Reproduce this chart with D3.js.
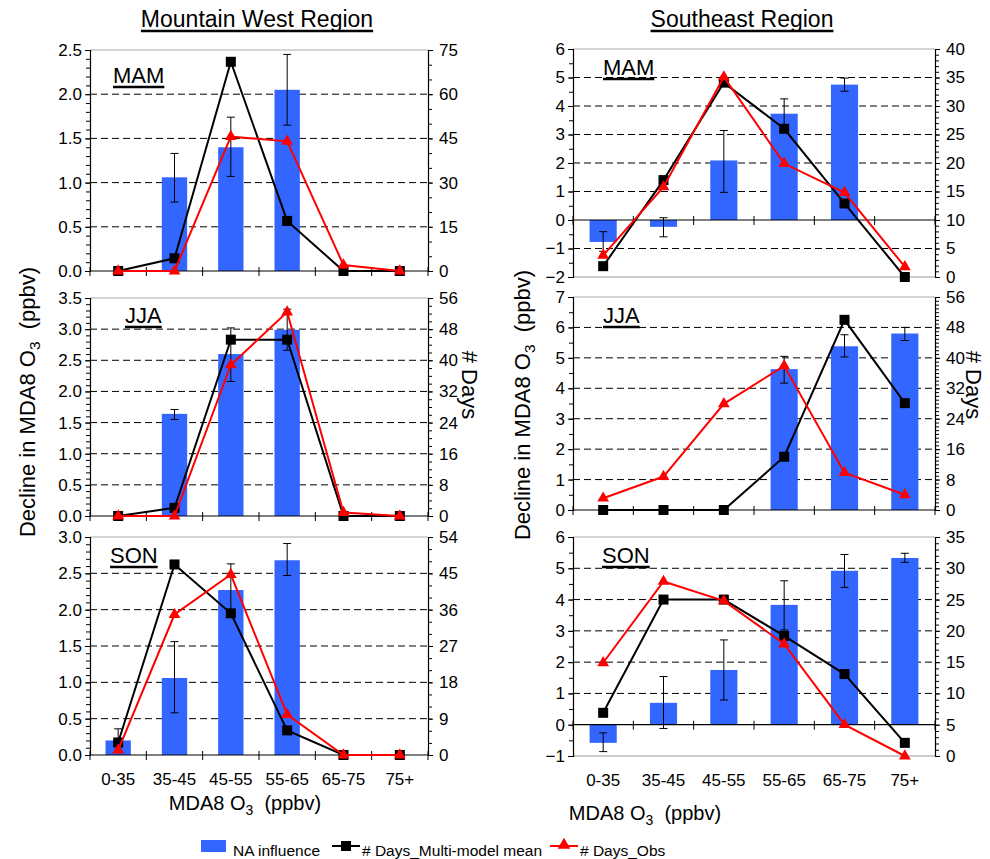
<!DOCTYPE html>
<html>
<head>
<meta charset="utf-8">
<script src="https://cdn.jsdelivr.net/npm/d3@7"></script>
<style>
  body { margin: 0; background: #fff; }
  svg { font-family: "Liberation Sans", Arial, sans-serif; }
</style>
</head>
<body>
<svg id="chart" width="990" height="859"></svg>
<script>
const categories = ["0-35", "35-45", "45-55", "55-65", "65-75", "75+"];

// Mountain West
const mwMamBar   = [0, 1.06, 1.40, 2.05, 0, 0];
const mwMamHi    = [null, 1.33, 1.74, 2.45, null, null];
const mwMamLo    = [null, 0.78, 1.07, 1.65, null, null];
const mwMamModel = [0, 4.3, 71, 17, 0, 0];
const mwMamObs   = [0, 0, 45.6, 44, 2, 0];

const mwJjaBar   = [0, 1.64, 2.60, 2.99, 0, 0];
const mwJjaHi    = [null, 1.71, 3.02, 3.32, null, null];
const mwJjaLo    = [null, 1.55, 2.16, 2.66, null, null];
const mwJjaModel = [0, 2.1, 45.3, 45.3, 0, 0];
const mwJjaObs   = [0, 0, 38.8, 52.4, 0.9, 0];

const mwSonBar   = [0.20, 1.06, 2.27, 2.68, 0, 0];
const mwSonHi    = [0.36, 1.56, 2.63, 2.91, null, null];
const mwSonLo    = [0.05, 0.58, 1.95, 2.47, null, null];
const mwSonModel = [3.1, 47.2, 35.1, 6.1, 0, 0];
const mwSonObs   = [1.2, 34.8, 44.7, 10, 0, 0];

// Southeast
const seMamBar   = [-0.77, -0.24, 2.09, 3.73, 4.75, 0];
const seMamHi    = [-0.41, 0.08, 3.14, 4.25, 4.98, null];
const seMamLo    = [-1.10, -0.59, 0.97, 3.20, 4.52, null];
const seMamModel = [1.9, 17, 34.1, 26, 12.9, 0];
const seMamObs   = [3.8, 15.8, 35.1, 19.9, 14.8, 1.8];

const seJjaBar   = [0, 0, 0, 4.63, 5.38, 5.80];
const seJjaHi    = [null, null, null, 5.05, 5.76, 6.00];
const seJjaLo    = [null, null, null, 4.17, 5.03, 5.57];
const seJjaModel = [0, 0, 0, 14, 50, 28.1];
const seJjaObs   = [3.1, 8.8, 27.9, 37.9, 9.8, 4.0];

const seSonBar   = [-0.58, 0.70, 1.75, 3.83, 4.92, 5.33];
const seSonHi    = [-0.26, 1.54, 2.71, 4.60, 5.44, 5.48];
const seSonLo    = [-0.86, -0.12, 0.79, 3.03, 4.39, 5.19];
const seSonModel = [6.9, 25, 25, 19.2, 13.1, 2.1];
const seSonObs   = [14.9, 27.9, 24.8, 17.9, 5, 0];

const barColor = "#3366ff";
const tickFont = 17;

const svg = d3.select("#chart");

const panels = [
  { x0: 90, x1: 428, y0: 50, y1: 271, season: "MAM", lx: 113, ly: 83,
    left: [0, 2.5], lStep: 0.5, lMinor: 0.1, right: [0, 75], rStep: 15, rMinor: 5, fmt: ".1f",
    bar: mwMamBar, hi: mwMamHi, lo: mwMamLo, model: mwMamModel, obs: mwMamObs, catLabels: false },
  { x0: 90, x1: 428, y0: 298, y1: 516, season: "JJA", lx: 125, ly: 323,
    left: [0, 3.5], lStep: 0.5, lMinor: 0.1, right: [0, 56], rStep: 8, rMinor: 2, fmt: ".1f",
    bar: mwJjaBar, hi: mwJjaHi, lo: mwJjaLo, model: mwJjaModel, obs: mwJjaObs, catLabels: false },
  { x0: 90, x1: 428, y0: 537, y1: 755, season: "SON", lx: 110, ly: 563,
    left: [0, 3], lStep: 0.5, lMinor: 0.1, right: [0, 54], rStep: 9, rMinor: 3, fmt: ".1f",
    bar: mwSonBar, hi: mwSonHi, lo: mwSonLo, model: mwSonModel, obs: mwSonObs, catLabels: true },
  { x0: 573, x1: 935, y0: 49, y1: 277, season: "MAM", lx: 603, ly: 75,
    left: [-2, 6], lStep: 1, lMinor: 0.5, right: [0, 40], rStep: 5, rMinor: 1, fmt: "d",
    bar: seMamBar, hi: seMamHi, lo: seMamLo, model: seMamModel, obs: seMamObs, catLabels: false },
  { x0: 573, x1: 935, y0: 297, y1: 510, season: "JJA", lx: 603, ly: 323,
    left: [0, 7], lStep: 1, lMinor: 0.5, right: [0, 56], rStep: 8, rMinor: 1, fmt: "d",
    bar: seJjaBar, hi: seJjaHi, lo: seJjaLo, model: seJjaModel, obs: seJjaObs, catLabels: false },
  { x0: 573, x1: 935, y0: 537, y1: 756, season: "SON", lx: 602, ly: 563,
    left: [-1, 6], lStep: 1, lMinor: 0.5, right: [0, 35], rStep: 5, rMinor: 1, fmt: "d",
    bar: seSonBar, hi: seSonHi, lo: seSonLo, model: seSonModel, obs: seSonObs, catLabels: true }
];

function steps(dom, step) {
  const n = Math.round((dom[1] - dom[0]) / step);
  return d3.range(n + 1).map(i => +(dom[0] + i * step).toFixed(4));
}

function underlined(g, x, y, txt, size, anchor) {
  const t = g.append("text")
    .attr("x", x).attr("y", y)
    .attr("font-size", size)
    .attr("text-anchor", anchor || "start")
    .attr("fill", "#000")
    .text(txt);
  const w = t.node().getComputedTextLength();
  const sx = anchor === "middle" ? x - w / 2 : x;
  g.append("line")
    .attr("x1", sx).attr("x2", sx + w)
    .attr("y1", y + 4).attr("y2", y + 4)
    .attr("stroke", "#000").attr("stroke-width", 2.5);
}

panels.forEach(p => {
  const g = svg.append("g");

  const x = d3.scaleBand().domain(categories).range([p.x0, p.x1]).padding(0);
  const cx = c => x(c) + x.bandwidth() / 2;
  const barW = x.bandwidth() * 0.45;
  const yL = d3.scaleLinear().domain(p.left).range([p.y1, p.y0]);
  const yR = d3.scaleLinear().domain(p.right).range([p.y1, p.y0]);

  // grid
  const majors = steps(p.left, p.lStep);
  g.selectAll(".grid")
    .data(majors.filter(v => v !== 0 && v !== p.left[0] && v !== p.left[1]))
    .join("line")
    .attr("x1", p.x0).attr("x2", p.x1)
    .attr("y1", d => yL(d)).attr("y2", d => yL(d))
    .attr("stroke", "#000").attr("stroke-width", 1)
    .attr("stroke-dasharray", "7,4");

  // top border / bottom border (light)
  g.append("line")
    .attr("x1", p.x0).attr("x2", p.x1)
    .attr("y1", p.y0).attr("y2", p.y0)
    .attr("stroke", "#aaa").attr("stroke-width", 1);
  if (p.left[0] < 0) {
    g.append("line")
      .attr("x1", p.x0).attr("x2", p.x1)
      .attr("y1", p.y1).attr("y2", p.y1)
      .attr("stroke", "#999").attr("stroke-width", 1);
  }

  // bars
  const rows = categories.map((c, i) => ({ c, v: p.bar[i], hi: p.hi[i], lo: p.lo[i], m: p.model[i], o: p.obs[i] }));
  g.selectAll(".bar")
    .data(rows.filter(d => d.v !== 0))
    .join("rect")
    .attr("x", d => cx(d.c) - barW / 2)
    .attr("width", barW)
    .attr("y", d => yL(Math.max(0, d.v)))
    .attr("height", d => Math.abs(yL(d.v) - yL(0)))
    .attr("fill", barColor);

  // category axis on zero line
  const y0 = yL(0);
  g.append("line")
    .attr("x1", p.x0).attr("x2", p.x1)
    .attr("y1", y0).attr("y2", y0)
    .attr("stroke", "#000").attr("stroke-width", 1.2);
  const bounds = categories.map(c => x(c)).concat([p.x1]);
  g.selectAll(".ctick")
    .data(bounds)
    .join("line")
    .attr("x1", d => d).attr("x2", d => d)
    .attr("y1", y0 - 4).attr("y2", y0 + 5)
    .attr("stroke", "#000").attr("stroke-width", 1);

  if (p.catLabels) {
    g.selectAll(".clab")
      .data(categories)
      .join("text")
      .attr("x", d => cx(d))
      .attr("y", p.y1 + 30)
      .attr("text-anchor", "middle")
      .attr("font-size", tickFont)
      .text(d => d);
  }

  // error bars
  const eb = g.selectAll(".err")
    .data(rows.filter(d => d.hi != null))
    .join("g");
  eb.append("line")
    .attr("x1", d => cx(d.c)).attr("x2", d => cx(d.c))
    .attr("y1", d => yL(d.lo)).attr("y2", d => yL(d.hi))
    .attr("stroke", "#000").attr("stroke-width", 1);
  ["hi", "lo"].forEach(k => {
    eb.append("line")
      .attr("x1", d => cx(d.c) - 4).attr("x2", d => cx(d.c) + 4)
      .attr("y1", d => yL(d[k])).attr("y2", d => yL(d[k]))
      .attr("stroke", "#000").attr("stroke-width", 1);
  });

  // left axis
  const axL = g.append("g")
    .attr("transform", `translate(${p.x0},0)`)
    .call(d3.axisLeft(yL).tickValues(majors).tickFormat(d3.format(p.fmt)).tickSize(5).tickPadding(3));
  g.append("g")
    .attr("transform", `translate(${p.x0},0)`)
    .call(d3.axisLeft(yL).tickValues(steps(p.left, p.lMinor)).tickFormat("").tickSize(4))
    .call(a => a.select(".domain").remove());

  // right axis
  const rMajors = steps(p.right, p.rStep);
  const axR = g.append("g")
    .attr("transform", `translate(${p.x1},0)`)
    .call(d3.axisRight(yR).tickValues(rMajors).tickFormat(d3.format("d")).tickSize(5).tickPadding(6));
  g.append("g")
    .attr("transform", `translate(${p.x1},0)`)
    .call(d3.axisRight(yR).tickValues(steps(p.right, p.rMinor)).tickFormat("").tickSize(4))
    .call(a => a.select(".domain").remove());

  [axL, axR].forEach(a => {
    a.select(".domain").attr("stroke", "#000").attr("stroke-width", 1.2);
    a.selectAll("text").attr("font-size", tickFont).attr("fill", "#000")
      .attr("font-family", "'Liberation Sans', Arial, sans-serif");
  });
  g.selectAll(".tick line").attr("stroke", "#000");

  // lines
  const line = d3.line().x(d => cx(d.c)).y(d => d.y);
  g.append("path")
    .datum(rows.map(d => ({ c: d.c, y: yR(d.m) })))
    .attr("d", line)
    .attr("fill", "none").attr("stroke", "#000").attr("stroke-width", 2);
  g.selectAll(".sq")
    .data(rows)
    .join("rect")
    .attr("x", d => cx(d.c) - 5).attr("y", d => yR(d.m) - 5)
    .attr("width", 10).attr("height", 10)
    .attr("fill", "#000");

  g.append("path")
    .datum(rows.map(d => ({ c: d.c, y: yR(d.o) })))
    .attr("d", line)
    .attr("fill", "none").attr("stroke", "#ff0000").attr("stroke-width", 2);
  g.selectAll(".tri")
    .data(rows)
    .join("path")
    .attr("d", d3.symbol(d3.symbolTriangle).size(60))
    .attr("transform", d => `translate(${cx(d.c)},${yR(d.o)})`)
    .attr("fill", "#ff0000");

  underlined(g, p.lx, p.ly, p.season, 22);
});

// titles
underlined(svg, 257, 27, "Mountain West Region", 23, "middle");
underlined(svg, 742, 27, "Southeast Region", 23, "middle");

// axis titles
function o3Label(sel, prefix, suffix) {
  sel.append("tspan").text(prefix);
  sel.append("tspan").attr("font-size", "0.7em").attr("dy", 5).text("3");
  sel.append("tspan").attr("dy", -5).text(suffix);
}
[[35, 402], [530, 405]].forEach(([x, y]) => {
  const t = svg.append("text")
    .attr("transform", `translate(${x},${y}) rotate(-90)`)
    .attr("text-anchor", "middle")
    .attr("font-size", 22)
    .attr("xml:space", "preserve");
  o3Label(t, "Decline in MDA8 O", "  (ppbv)");
});
[[462, 385], [966, 385]].forEach(([x, y]) => {
  svg.append("text")
    .attr("transform", `translate(${x},${y}) rotate(90)`)
    .attr("text-anchor", "middle")
    .attr("font-size", 22)
    .text("# Days");
});
[[245, 810], [645, 820]].forEach(([x, y]) => {
  const t = svg.append("text")
    .attr("x", x).attr("y", y)
    .attr("text-anchor", "middle")
    .attr("font-size", 20)
    .attr("xml:space", "preserve");
  o3Label(t, "MDA8 O", "  (ppbv)");
});

// legend
const lg = svg.append("g").attr("font-size", 15.5);
lg.append("rect").attr("x", 201).attr("y", 840).attr("width", 25).attr("height", 12).attr("fill", barColor);
lg.append("text").attr("x", 233).attr("y", 856).text("NA influence");
lg.append("line").attr("x1", 332).attr("x2", 360).attr("y1", 846).attr("y2", 846).attr("stroke", "#000").attr("stroke-width", 2);
lg.append("rect").attr("x", 341).attr("y", 841).attr("width", 10).attr("height", 10).attr("fill", "#000");
lg.append("text").attr("x", 362).attr("y", 856).text("# Days_Multi-model mean");
lg.append("line").attr("x1", 550).attr("x2", 578).attr("y1", 846).attr("y2", 846).attr("stroke", "#ff0000").attr("stroke-width", 2);
lg.append("path").attr("d", d3.symbol(d3.symbolTriangle).size(70)).attr("transform", "translate(564,845)").attr("fill", "#ff0000");
lg.append("text").attr("x", 580).attr("y", 856).text("# Days_Obs");
</script>
</body>
</html>
